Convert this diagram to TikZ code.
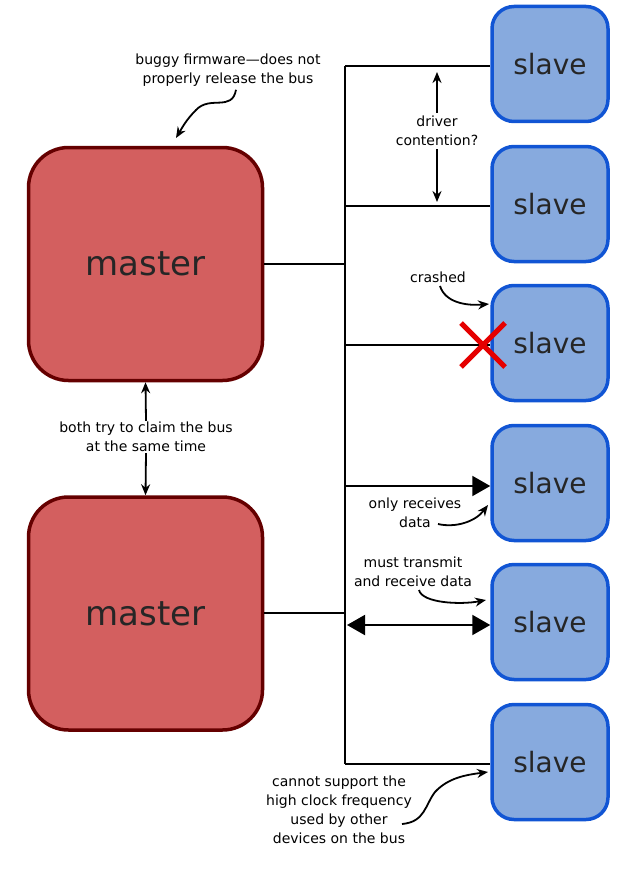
\documentclass[tikz,border=0pt]{standalone}
\usepackage{fontspec}
\setmainfont{DejaVu Sans}
\usetikzlibrary{arrows.meta}
\definecolor{mfill}{HTML}{D35F5F}
\definecolor{mdraw}{HTML}{650000}
\definecolor{sfill}{HTML}{87AADE}
\definecolor{sdraw}{HTML}{1155D4}
\begin{document}
\begin{tikzpicture}[x=1pt,y=-1pt,
 master/.style={draw=mdraw,fill=mfill,line width=3.5pt,rounded corners=40pt,minimum width=234pt,minimum height=233pt,font=\fontsize{34}{40}\selectfont,text=black!85},
 slave/.style={draw=sdraw,fill=sfill,line width=3.5pt,rounded corners=22pt,minimum width=116pt,minimum height=115pt,font=\fontsize{28}{32}\selectfont,text=black!85},
 bus/.style={line width=2pt},
 lbl/.style={font=\fontsize{14}{19}\selectfont,align=center},
 ann/.style={line width=1.8pt,-{Stealth[length=11pt,width=9pt]}},
 big/.style={line width=2pt,-{Triangle[length=18pt,width=20pt]}}]
\useasboundingbox (0,0) rectangle (640,872);
\node[master] (m1) at (145.5,264) {master};
\node[master] (m2) at (145.5,613.5) {master};
\foreach \i/\y in {1/64,2/204,3/343,4/483,5/622,6/762}
  \node[slave] (s\i) at (550,\y) {slave};
\coordinate (t) at (345,66);
\coordinate (b) at (345,764);
\draw[bus] (t) -- (b);
\draw[bus] (t) -- (t -| s1.west);
\draw[bus] (m1.east |- 0,264) -- (345,264);
\draw[bus] (m2.east |- 0,613) -- (345,613);
\draw[bus] (345,206) -- (s2.west |- 0,206);
\draw[bus] (345,345) -- (s3.west |- 0,345);
\draw[bus] (b) -- (s6.west |- b);
\draw[big] (345,486) -- (s4.west |- 0,486);
\draw[line width=2pt,{Triangle[length=18pt,width=20pt]}-{Triangle[length=18pt,width=20pt]}] (347,625) -- (s5.west |- 0,625);
% driver contention
\node[lbl] (dc) at (437,131) {driver\\contention?};
\draw[ann] (dc.north) -- (437,72);
\draw[ann] (dc.south) -- (437,202);
% crashed
\node[lbl] (cr) at (438,277) {crashed};
\draw[ann] (cr.south) ++(2,0) .. controls (445,302) and (465,306) .. (489,304);
\draw[red!90!black,line width=5pt] (461,323) -- (505,367) (505,323) -- (461,367);
% buggy
\node[lbl] (bg) at (228,70) {buggy firmware—does not\\properly release the bus};
\draw[ann] (bg.south) ++(8,0) .. controls (232,112) and (210,95) .. (196,110) .. controls (186,120) and (182,128) .. (176,138);
% both try
\node[lbl,fill=white,inner sep=1pt] (bt) at (146,437) {both try to claim the bus\\at the same time};
\draw[ann] (bt.north) -- (m1.south);
\draw[ann] (bt.south) -- (m2.north);
% only receives
\node[lbl] (or) at (415,513) {only receives\\data};
\draw[ann] (438,524) .. controls (455,528) and (475,522) .. (488,505);
% must transmit
\node[lbl] (mt) at (413,572) {must transmit\\and receive data};
\draw[ann] (419,590) .. controls (422,603) and (460,605) .. (486,600);
% cannot support
\node[lbl] (cs) at (339,810) {cannot support the\\high clock frequency\\used by other\\devices on the bus};
\draw[ann] (402,824) .. controls (425,822) and (425,805) .. (435,792) .. controls (448,778) and (465,775) .. (488,772);
\end{tikzpicture}
\end{document}
